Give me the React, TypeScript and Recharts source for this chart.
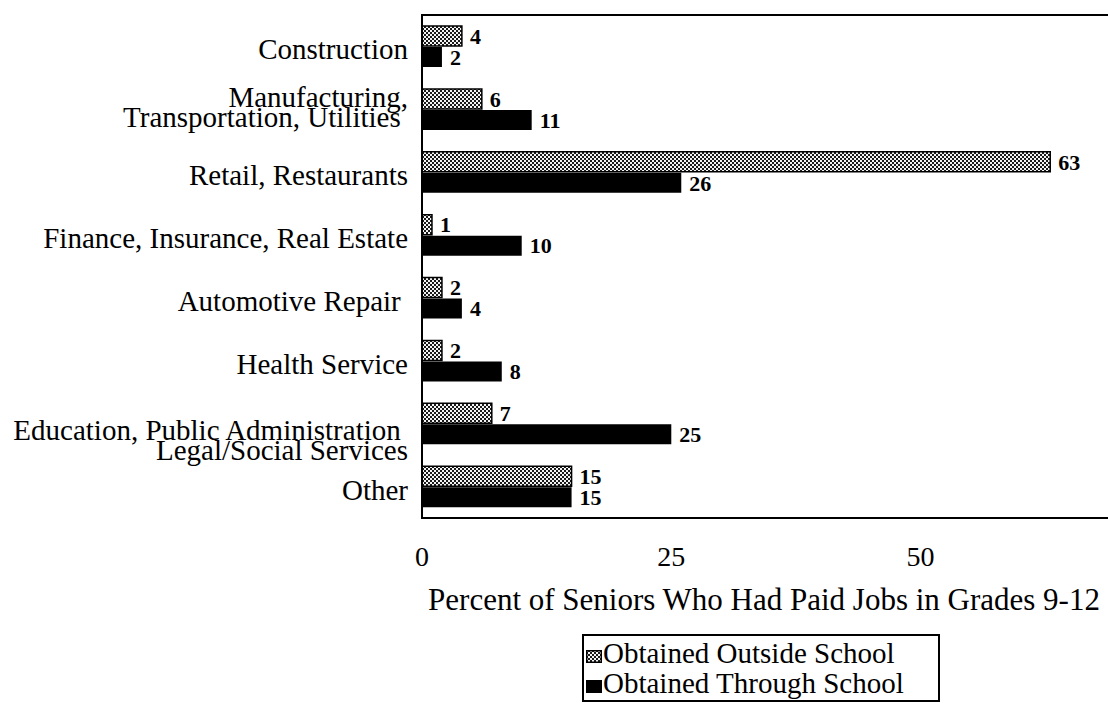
import { BarChart, Bar, XAxis, YAxis, LabelList, ReferenceArea } from 'recharts'

// Industry of seniors' paid jobs, grades 9-12 (percent)
const categories = [
  'Construction',
  'Manufacturing,\nTransportation, Utilities ',
  'Retail, Restaurants',
  'Finance, Insurance, Real Estate',
  'Automotive Repair ',
  'Health Service',
  'Education, Public Administration \nLegal/Social Services',
  'Other',
]
const outsideSchool = [4, 6, 63, 1, 2, 2, 7, 15]
const throughSchool = [2, 11, 26, 10, 4, 8, 25, 15]
const xTicks = [0, 25, 50]
const xLabel = 'Percent of Seniors Who Had Paid Jobs in Grades 9-12'
const seriesNames = ['Obtained Outside School', 'Obtained Through School']

const data = categories.map((name, i) => ({
  name,
  outside: outsideSchool[i],
  through: throughSchool[i],
}))

const FONT = '"Liberation Serif", "Times New Roman", serif'

function CategoryTick(props: any) {
  const { y, payload, index } = props
  const lines: string[] = String(payload.value).split('\n')
  // two-line labels sit a little differently in the original
  const first = lines.length > 1 ? (index === 1 ? -2 : 16) : 13
  return (
    <text textAnchor="end" fontFamily={FONT} fontSize={29} fill="#000" style={{ whiteSpace: 'pre' }}>
      {lines.map((l, i) => (
        <tspan key={i} x={408} y={y + first + i * 20}>
          {l}
        </tspan>
      ))}
    </text>
  )
}

function Swatch({ fill }: { fill: string }) {
  return (
    <svg width={16} height={13} style={{ marginRight: 1, verticalAlign: 'middle' }}>
      <rect x={0.75} y={0.75} width={14.5} height={11.5} fill={fill} stroke="#000" strokeWidth={1.5} />
    </svg>
  )
}

const valueLabel = { fill: '#000', fontSize: 22, fontWeight: 'bold', fontFamily: FONT }

export default function App() {
  return (
    <div style={{ position: 'fixed', left: 0, top: 0, width: 1108, height: 703, overflow: 'hidden', background: '#fff' }}>
      <BarChart
        width={1140}
        height={703}
        data={data}
        layout="vertical"
        margin={{ top: 15, right: 10, left: 0, bottom: 85 }}
        barGap={1}
      >
        <defs>
          <pattern id="hatch" width={4} height={4} patternUnits="userSpaceOnUse">
            <rect width={4} height={4} fill="#1a1a1a" />
            <rect x={0} y={0} width={2} height={2} fill="#f4f4f4" />
            <rect x={2} y={2} width={2} height={2} fill="#f4f4f4" />
          </pattern>
        </defs>
        <XAxis
          type="number"
          domain={[0, 71]}
          ticks={xTicks}
          tickLine={false}
          axisLine={false}
          tickMargin={22}
          height={100}
          tick={{ fill: '#000', fontSize: 28, fontFamily: FONT }}
          label={{ value: xLabel, position: 'insideBottom', offset: 8, dx: -12, fill: '#000', fontSize: 31, fontFamily: FONT }}
        />
        <YAxis
          type="category"
          dataKey="name"
          width={422}
          tickLine={false}
          axisLine={{ stroke: '#000', strokeWidth: 2 }}
          tick={<CategoryTick />}
          interval={0}
        />
        <ReferenceArea x1={0} x2={71} fill="none" fillOpacity={0} stroke="#000" strokeWidth={2} ifOverflow="visible" />
        <Bar dataKey="outside" barSize={20} fill="url(#hatch)" stroke="#000" strokeWidth={1.5} isAnimationActive={false}>
          <LabelList dataKey="outside" position="right" offset={8} {...valueLabel} />
        </Bar>
        <Bar dataKey="through" barSize={20} fill="#000" isAnimationActive={false}>
          <LabelList dataKey="through" position="right" offset={8} {...valueLabel} />
        </Bar>
      </BarChart>
      <div
        style={{
          position: 'absolute',
          left: 582,
          top: 634,
          width: 358,
          height: 68,
          border: '2px solid #000',
          fontFamily: FONT,
          fontSize: 29,
          lineHeight: '30px',
          paddingLeft: 2,
          paddingTop: 2,
          color: '#000',
          whiteSpace: 'nowrap',
          boxSizing: 'border-box',
        }}
      >
        <div><Swatch fill="url(#hatch)" />{seriesNames[0]}</div>
        <div><Swatch fill="#000" />{seriesNames[1]}</div>
      </div>
    </div>
  )
}
